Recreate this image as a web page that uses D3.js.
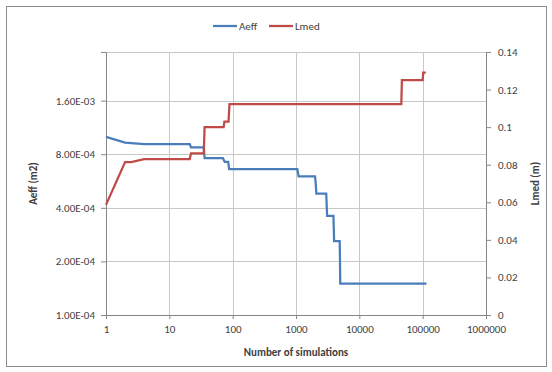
<!DOCTYPE html>
<html lang="en">
<head>
<meta charset="UTF-8">
<title>Aeff and Lmed vs number of simulations</title>
<script src="https://d3js.org/d3.v7.min.js"></script>
<style>
  body { margin: 0; background: #fff; }
  text { font-family: Carlito, Lato, "Open Sans", sans-serif; fill: #404040; }
</style>
</head>
<body>
<svg id="chart" width="552" height="372"></svg>
<script>
// simulation counts / values
const aeffN   = [1, 2, 4, 21, 22, 35, 36, 70, 75, 85, 88, 1050, 1100, 2000, 2050, 2100, 3000, 3100, 3900, 4000, 4900, 5000, 115000];
const aeffVal = [1.0e-3, 9.3e-4, 9.1e-4, 9.1e-4, 8.75e-4, 8.75e-4, 7.6e-4, 7.6e-4, 7.25e-4, 7.25e-4, 6.6e-4, 6.6e-4, 6.0e-4, 6.0e-4, 5.45e-4, 4.8e-4, 4.8e-4, 3.6e-4, 3.6e-4, 2.6e-4, 2.6e-4, 1.5e-4, 1.5e-4];

const lmedN   = [1, 2, 2.5, 4, 21, 22, 35, 36, 72, 74, 86, 89, 46000, 47000, 100000, 102000, 112000];
const lmedVal = [0.0586, 0.0814, 0.0814, 0.083, 0.083, 0.086, 0.086, 0.1, 0.1, 0.103, 0.103, 0.1123, 0.1123, 0.125, 0.125, 0.129, 0.129];

const xTicks = [1, 10, 100, 1000, 10000, 100000, 1000000];
const leftTicks = [1e-4, 2e-4, 4e-4, 8e-4, 1.6e-3];
const rightTicks = d3.range(0, 0.141, 0.02);

const svg = d3.select("#chart");
const margin = { top: 52, right: 66, bottom: 57, left: 106 };
const width = 552, height = 372;
const innerWidth = width - margin.left - margin.right;
const innerHeight = height - margin.top - margin.bottom;

const x = d3.scaleLog().domain([1, 1e6]).range([0, innerWidth]);
const yL = d3.scaleLog().base(2).domain([1e-4, 3e-3]).range([innerHeight, 0]);
const yR = d3.scaleLinear().domain([0, 0.14]).range([innerHeight, 0]);

// outer chart border
svg.append("rect")
  .attr("x", 6.5).attr("y", 6.5)
  .attr("width", 540).attr("height", 360)
  .attr("fill", "#fff")
  .attr("stroke", "#8c8c8c");

const g = svg.append("g").attr("transform", `translate(${margin.left},${margin.top})`);

// horizontal gridlines (left axis) + top edge
g.selectAll(".hgrid")
  .data(leftTicks.concat([3e-3]))
  .join("line")
  .attr("x1", 0).attr("x2", innerWidth)
  .attr("y1", d => Math.round(yL(d)) + 0.5).attr("y2", d => Math.round(yL(d)) + 0.5)
  .attr("stroke", "#c8c8c8");

// vertical gridlines
g.selectAll(".vgrid")
  .data(xTicks.slice(1))
  .join("line")
  .attr("x1", d => Math.round(x(d)) + 0.5).attr("x2", d => Math.round(x(d)) + 0.5)
  .attr("y1", 0).attr("y2", innerHeight)
  .attr("stroke", "#c8c8c8");

// axes
const xAxis = g.append("g")
  .attr("transform", `translate(0,${innerHeight})`)
  .call(d3.axisBottom(x).tickValues(xTicks).tickFormat(d3.format("d")).tickSize(4).tickPadding(6));

const leftAxis = g.append("g")
  .call(d3.axisLeft(yL).tickValues(leftTicks).tickFormat(d => d.toExponential(2).toUpperCase().replace(/E([+-])(\d)$/, "E$10$2")).tickSize(5).tickPadding(6));

const rightAxis = g.append("g")
  .attr("transform", `translate(${innerWidth},0)`)
  .call(d3.axisRight(yR).tickValues(rightTicks).tickFormat(d => +d.toFixed(2) + "").tickSize(5).tickPadding(7));

[xAxis, leftAxis, rightAxis].forEach(a => {
  a.select(".domain").attr("stroke", "#868686");
  a.selectAll(".tick line").attr("stroke", "#868686");
  a.selectAll(".tick text").style("font-size", "11px").attr("fill", "#404040")
    .style("font-family", "Carlito, Lato, 'Open Sans', sans-serif");
});

// series
const line = (xs, ys, yScale) => d3.line()
  .x((d, i) => x(xs[i]))
  .y((d, i) => yScale(ys[i]))(xs);

g.append("path")
  .attr("d", line(aeffN, aeffVal, yL))
  .attr("fill", "none")
  .attr("stroke", "#4a7ebb")
  .attr("stroke-width", 2.25);

g.append("path")
  .attr("d", line(lmedN, lmedVal, yR))
  .attr("fill", "none")
  .attr("stroke", "#be4b48")
  .attr("stroke-width", 2.25);

// axis titles
svg.append("text")
  .attr("x", margin.left + innerWidth / 2)
  .attr("y", 356)
  .attr("text-anchor", "middle")
  .style("font-size", "11px").style("font-weight", "bold")
  .attr("fill", "#000")
  .text("Number of simulations");

svg.append("text")
  .attr("transform", `translate(37,${margin.top + innerHeight / 2}) rotate(-90)`)
  .attr("text-anchor", "middle")
  .style("font-size", "11px").style("font-weight", "bold")
  .attr("fill", "#000")
  .text("Aeff (m2)");

svg.append("text")
  .attr("transform", `translate(539,${margin.top + innerHeight / 2}) rotate(-90)`)
  .attr("text-anchor", "middle")
  .style("font-size", "11px").style("font-weight", "bold")
  .attr("fill", "#000")
  .text("Lmed (m)");

// legend
const legendItems = [
  { name: "Aeff", color: "#4a7ebb", x: 213 },
  { name: "Lmed", color: "#be4b48", x: 269 }
];
const lg = svg.append("g");
legendItems.forEach(it => {
  lg.append("line")
    .attr("x1", it.x).attr("x2", it.x + 24)
    .attr("y1", 26).attr("y2", 26)
    .attr("stroke", it.color).attr("stroke-width", 2.25);
  lg.append("text")
    .attr("x", it.x + 26).attr("y", 30)
    .style("font-size", "11px")
    .attr("fill", "#404040")
    .text(it.name);
});
</script>
</body>
</html>
